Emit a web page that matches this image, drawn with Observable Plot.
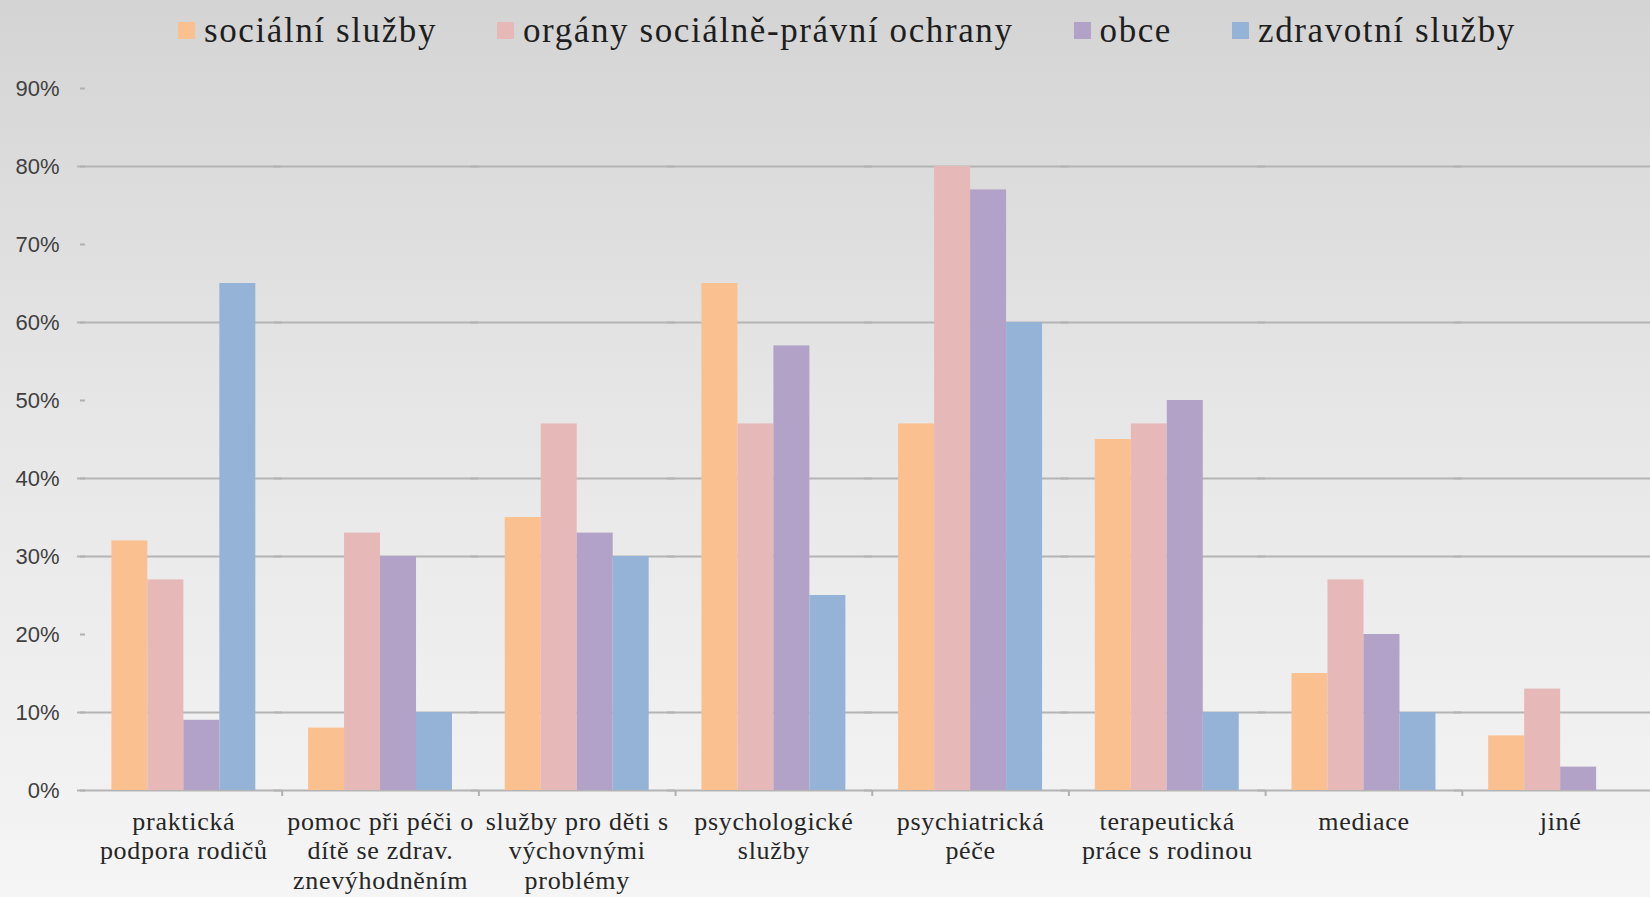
<!DOCTYPE html>
<html>
<head>
<meta charset="utf-8">
<script src="https://cdn.jsdelivr.net/npm/d3@7"></script>
<script src="https://cdn.jsdelivr.net/npm/@observablehq/plot@0.6"></script>
<style>
  html, body { margin: 0; padding: 0; width: 1650px; height: 897px; overflow: hidden; }
  body { background: linear-gradient(to bottom, #d4d4d4 0%, #e6e6e6 45%, #f5f5f5 100%); }
  .legend { height: 60px; display: flex; align-items: center; padding-left: 178px; box-sizing: border-box;
            font-family: "Liberation Serif", serif; font-size: 35px; letter-spacing: 1.6px; color: #1e1e1e; line-height: 1; }
  .legend .item { display: flex; align-items: center; margin-right: 60px; white-space: nowrap; }
  .legend .sw { width: 17px; height: 17px; margin-right: 9px; }
  #chart svg { display: block; background: transparent; max-width: none; }
  #chart [aria-label="fx-axis tick label"] text { letter-spacing: 0.7px; }
</style>
</head>
<body>
<div class="legend" id="legend"></div>
<div id="chart"></div>
<script>
const categories = [
  "praktická\npodpora rodičů",
  "pomoc při péči o\ndítě se zdrav.\nznevýhodněním",
  "služby pro děti s\nvýchovnými\nproblémy",
  "psychologické\nslužby",
  "psychiatrická\npéče",
  "terapeutická\npráce s rodinou",
  "mediace",
  "jiné"
];
const series = ["sociální služby", "orgány sociálně-právní ochrany", "obce", "zdravotní služby"];
const colors = ["#fac090", "#e6b9b8", "#b3a2c7", "#95b3d7"];
const socialni   = [0.32, 0.08, 0.35, 0.65, 0.47, 0.45, 0.15, 0.07];
const ospod      = [0.27, 0.33, 0.47, 0.47, 0.80, 0.47, 0.27, 0.13];
const obce       = [0.09, 0.30, 0.33, 0.57, 0.77, 0.50, 0.20, 0.03];
const zdravotni  = [0.65, 0.10, 0.30, 0.25, 0.60, 0.10, 0.10, 0.00];
const yTicks = [0, 0.1, 0.2, 0.3, 0.4, 0.5, 0.6, 0.7, 0.8, 0.9];
const gridValues = [0, 0.1, 0.3, 0.4, 0.6, 0.8];

const valuesBySeries = [socialni, ospod, obce, zdravotni];
const data = [];
categories.forEach((c, i) => series.forEach((s, j) => data.push({category: c, series: s, value: valuesBySeries[j][i]})));

// legend
const legend = document.getElementById("legend");
series.forEach((s, j) => {
  const it = document.createElement("div"); it.className = "item";
  const sw = document.createElement("div"); sw.className = "sw"; sw.style.background = colors[j];
  const tx = document.createElement("span"); tx.textContent = s;
  it.appendChild(sw); it.appendChild(tx); legend.appendChild(it);
});

const left = 85, right = 1658.5;
const halfBand = (right - left) / categories.length / 2;

const chart = Plot.plot({
  width: 1650,
  height: 837,
  marginTop: 28,
  marginBottom: 107,
  marginLeft: left,
  marginRight: 0,
  style: {background: "transparent", overflow: "hidden"},
  fx: {domain: categories, range: [left, right], padding: 0, round: false, label: null},
  x: {domain: series, paddingInner: 0, paddingOuter: 0.7326, round: false, axis: null},
  y: {domain: [0, 0.9], label: null},
  color: {domain: series, range: colors},
  marks: [
    Plot.ruleY(gridValues, {stroke: "#b4b4b4", strokeWidth: 2, insetLeft: -8}),
    Plot.barY(data, {fx: "category", x: "series", y: "value", fill: "series"}),
    Plot.axisY({ticks: yTicks, tickFormat: d3.format(".0%"), tickSize: 5, tickPadding: 21,
                fontSize: 22, fontFamily: "Liberation Sans, sans-serif", fill: "#404040",
                stroke: "#b0b0b0", strokeWidth: 2, label: null}),
    Plot.axisFx({anchor: "bottom", tickSize: 0, tickPadding: 18, lineAnchor: "top", lineHeight: 1.14,
                 fontSize: 26, fontFamily: "Liberation Serif, serif", fill: "#262626", label: null}),
    Plot.axisFx({anchor: "bottom", tickSize: 6, tickFormat: () => "", dx: halfBand, stroke: "#b0b0b0", strokeWidth: 2, label: null})
  ]
});
document.getElementById("chart").appendChild(chart);
</script>
</body>
</html>
